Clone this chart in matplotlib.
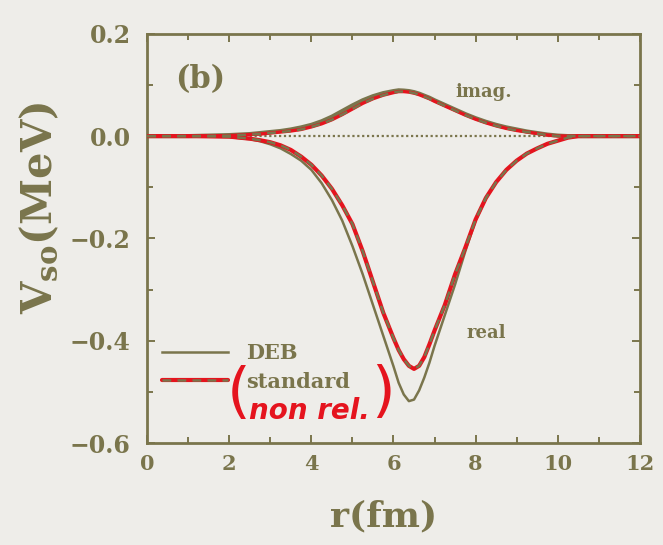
import matplotlib

matplotlib.use("Agg")
import matplotlib.pyplot as plt
from matplotlib.legend_handler import HandlerTuple
from matplotlib.ticker import MultipleLocator

# radial grid (fm) and spin-orbit potentials (MeV)
r_fm = [0, 1,
        2, 2.25, 2.5, 2.75, 3, 3.25, 3.5, 3.75, 4, 4.25, 4.5, 4.75, 5, 5.25, 5.5, 5.75, 6,
        6.125, 6.25, 6.375, 6.5, 6.625, 6.75, 6.875, 7,
        7.25, 7.5, 7.75, 8, 8.25, 8.5, 8.75, 9, 9.25, 9.5, 9.75, 10, 10.25, 10.5,
        11, 12]
deb_real = [0, 0,
            -0.002, -0.004, -0.006, -0.010, -0.016, -0.024, -0.035, -0.048, -0.066,
            -0.092, -0.125, -0.165, -0.215, -0.27, -0.33, -0.39, -0.45,
            -0.482, -0.505, -0.518, -0.515, -0.497, -0.472, -0.443, -0.41,
            -0.35, -0.29, -0.225, -0.165, -0.122, -0.09, -0.066, -0.048, -0.034,
            -0.024, -0.015, -0.009, -0.003, 0,
            0, 0]
std_real = [0, 0,
            -0.001, -0.003, -0.005, -0.008, -0.012, -0.018, -0.027, -0.040, -0.056,
            -0.077, -0.103, -0.135, -0.172, -0.225, -0.285, -0.345, -0.395,
            -0.418, -0.436, -0.449, -0.455, -0.449, -0.432, -0.407, -0.38,
            -0.33, -0.27, -0.218, -0.163, -0.121, -0.09, -0.066, -0.048, -0.034,
            -0.024, -0.015, -0.009, -0.003, 0,
            0, 0]
deb_imag = [0, 0,
            0.002, 0.003, 0.004, 0.006, 0.008, 0.010, 0.013, 0.017, 0.022,
            0.029, 0.038, 0.049, 0.060, 0.070, 0.078, 0.084, 0.088,
            0.0895, 0.089, 0.088, 0.086, 0.083, 0.079, 0.075, 0.070,
            0.061, 0.052, 0.043, 0.035, 0.028, 0.022, 0.017, 0.013, 0.009,
            0.006, 0.003, 0.001, 0, 0,
            0, 0]
std_imag = [0, 0,
            0.001, 0.002, 0.003, 0.004, 0.006, 0.008, 0.010, 0.013, 0.018,
            0.024, 0.032, 0.042, 0.053, 0.064, 0.073, 0.080, 0.085,
            0.087, 0.087, 0.086, 0.084, 0.081, 0.077, 0.073, 0.068,
            0.059, 0.050, 0.041, 0.033, 0.026, 0.020, 0.015, 0.011, 0.008,
            0.005, 0.002, 0.0005, 0, 0,
            0, 0]

x_ticks = [0, 2, 4, 6, 8, 10, 12]
y_ticks = [-0.6, -0.4, -0.2, 0.0, 0.2]

OLIVE = "#7a754c"
RED = "#e5141e"
PAPER = "#eeede9"
SERIF = "DejaVu Serif"

plt.rcParams.update({
    "font.family": SERIF,
    "font.weight": "bold",
    "mathtext.fontset": "dejavuserif",
    "mathtext.default": "bf",
    "axes.unicode_minus": True,
})

fig = plt.figure(figsize=(6.63, 5.45), dpi=100, facecolor=PAPER)
ax = fig.add_axes([0.222, 0.187, 0.743, 0.751])
ax.set_facecolor(PAPER)

ax.axhline(0, color=OLIVE, lw=1.6, ls=(0, (1, 1.2)), zorder=1)

# DEB: solid olive
deb_line, = ax.plot(r_fm, deb_real, color=OLIVE, lw=1.8, zorder=3)
ax.plot(r_fm, deb_imag, color=OLIVE, lw=3.0, zorder=3)

# standard: dashed olive, traced over in red ink
red_line, = ax.plot(r_fm, std_real, color=RED, lw=3.0, zorder=4, solid_capstyle="round")
ax.plot(r_fm, std_imag, color=RED, lw=2.4, zorder=4, solid_capstyle="round")
std_line, = ax.plot(r_fm, std_real, color=OLIVE, lw=1.8, ls=(0, (3.5, 2.5)), zorder=5)
ax.plot(r_fm, std_imag, color=OLIVE, lw=1.8, ls=(0, (3.5, 2.5)), zorder=5)

ax.set_xlim(0, 12)
ax.set_ylim(-0.6, 0.2)
ax.set_xticks(x_ticks)
ax.set_yticks(y_ticks)
ax.set_yticklabels([f"{v:.1f}".replace("-", "\u2212") for v in y_ticks])
ax.xaxis.set_minor_locator(MultipleLocator(1))
ax.yaxis.set_minor_locator(MultipleLocator(0.1))
ax.tick_params(which="both", direction="in", top=True, right=True, color=OLIVE,
               width=1.4, labelcolor=OLIVE)
ax.tick_params(axis="x", labelsize=15, pad=8)
ax.tick_params(axis="y", labelsize=17, pad=12)
ax.tick_params(which="major", length=6)
ax.tick_params(which="minor", length=4)
for spine in ax.spines.values():
    spine.set_color(OLIVE)
    spine.set_linewidth(2.0)

ax.set_xlabel("r(fm)", fontsize=26, color=OLIVE, fontweight="bold")
ax.set_ylabel(r"V$_{\mathbf{so}}$(MeV)", fontsize=30, color=OLIVE, fontweight="bold")
ax.xaxis.set_label_coords(0.48, -0.138)
ax.yaxis.set_label_coords(-0.175, 0.575)

ax.text(1.3, 0.11, "(b)", fontsize=22, color=OLIVE, ha="center", va="center")
ax.text(8.2, 0.087, "imag.", fontsize=13, color=OLIVE, ha="center", va="center")
ax.text(8.25, -0.385, "real", fontsize=13, color=OLIVE, ha="center", va="center")

leg = ax.legend([deb_line, (red_line, std_line)], ["DEB", "standard"],
                handler_map={tuple: HandlerTuple(ndivide=1)},
                loc="lower left", bbox_to_anchor=(0.0, 0.09), frameon=False,
                fontsize=15, handlelength=3.2, handletextpad=0.85,
                labelspacing=0.4, borderaxespad=0.3)
for t in leg.get_texts():
    t.set_color(OLIVE)

# handwritten note beside the legend
ax.text(0.185, 0.118, "(", transform=ax.transAxes, fontsize=44, color=RED,
        family="DejaVu Sans", weight="normal", ha="center", va="center")
ax.text(0.478, 0.122, ")", transform=ax.transAxes, fontsize=44, color=RED,
        family="DejaVu Sans", weight="normal", ha="center", va="center")
ax.text(0.33, 0.078, "non rel.", transform=ax.transAxes, fontsize=20, color=RED,
        family="DejaVu Sans", weight="bold", style="oblique", ha="center", va="center")

fig.savefig("out.png", dpi=100, facecolor=PAPER)
